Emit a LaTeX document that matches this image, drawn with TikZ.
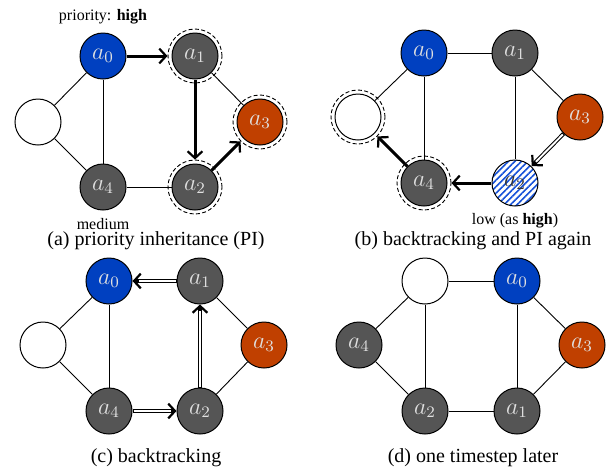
\documentclass[tikz,border=0pt]{standalone}
\usepackage{fontspec}
\setmainfont{Liberation Serif}
\usetikzlibrary{patterns.meta,arrows.meta}

\definecolor{agentblue}{HTML}{0040C0}
\definecolor{agentred}{HTML}{C04000}
\definecolor{agentgray}{HTML}{555555}
\definecolor{hatchblue}{HTML}{1450D8}

\tikzset{
  vtx/.style={circle, draw=black, line width=0.5pt, minimum size=23pt,
    inner sep=0pt, font=\large, text=white!88!black},
  freev/.style={vtx, fill=white},
  bluev/.style={vtx, fill=agentblue},
  redv/.style={vtx, fill=agentred},
  grayv/.style={vtx, fill=agentgray},
  hatchv/.style={vtx, pattern={Lines[angle=45, distance=2.3pt, line width=0.8pt]},
    pattern color=hatchblue, text=black!80},
  waitring/.style={circle, draw, dash pattern=on 2pt off 1.2pt,
    line width=0.45pt, minimum size=27pt, inner sep=0pt},
  link/.style={line width=0.45pt},
  tip/.tip={Straight Barb[length=3.4pt, width=7.4pt, line width=1.1pt]},
  pushlink/.style={line width=1.5pt, -tip},
  backlink/.style={line width=2pt, -tip,
    postaction={draw=white, line width=0.95pt, -, shorten >=3pt, shorten <=0.5pt}},
  smalltxt/.style={font=\fontsize{8}{9}\selectfont, inner sep=0pt},
  captxt/.style={font=\fontsize{10}{12}\selectfont, inner sep=0pt},
}

\begin{document}
\begin{tikzpicture}[x=0.5pt, y=-0.5pt]
\useasboundingbox (0,0) rectangle (613,468);

% ---------- (a) priority inheritance ----------
\node[bluev] (aA0) at (103,56) {$a_0$};
\node[grayv] (aA1) at (195,56) {$a_1$};
\node[freev] (eA)  at (38,122) {};
\node[redv]  (aA3) at (260,122) {$a_3$};
\node[grayv] (aA4) at (103,187) {$a_4$};
\node[grayv] (aA2) at (195,187) {$a_2$};
\node[waitring] (rA1) at (aA1.center) {};
\node[waitring] (rA2) at (aA2.center) {};
\node[waitring] (rA3) at (aA3.center) {};
\draw[link] (eA) -- (aA0);
\draw[link] (eA) -- (aA4);
\draw[link] (aA0) -- (aA4);
\draw[link] (aA1) -- (aA3);
\draw[link] (aA4) -- (aA2);
\draw[pushlink] (aA0) -- (rA1);
\draw[pushlink] (aA1) -- (rA2);
\draw[pushlink] (aA2) -- (rA3);
\node[smalltxt] (hiA) at (103,17) {priority: \textbf{high}};
\node[smalltxt] (mdA) at (103,224) {medium};
\node[captxt] (capA) at (156,241) {(a) priority inheritance (PI)};

% ---------- (b) backtracking and PI again ----------
\node[bluev]  (aB0) at (424,53) {$a_0$};
\node[grayv]  (aB1) at (515,53) {$a_1$};
\node[freev]  (eB)  at (358,117) {};
\node[redv]   (aB3) at (580,117) {$a_3$};
\node[grayv]  (aB4) at (424,183) {$a_4$};
\node[hatchv] (aB2) at (515,183) {$a_2$};
\node[waitring] (rB4) at (aB4.center) {};
\node[waitring] (rBe) at (eB.center) {};
\draw[link] (aB0) -- (aB1);
\draw[link] (aB0) -- (eB);
\draw[link] (aB0) -- (aB4);
\draw[link] (aB1) -- (aB2);
\draw[link] (aB1) -- (aB3);
\draw[backlink] (aB3) -- (aB2);
\draw[pushlink] (aB2) -- (rB4);
\draw[pushlink] (aB4) -- (rBe);
\node[smalltxt] (loB) at (515,221) {low (as \textbf{high})};
\node[captxt] (capB) at (473,241) {(b) backtracking and PI again};

% ---------- (c) backtracking ----------
\node[bluev] (aC0) at (109,281) {$a_0$};
\node[grayv] (aC1) at (200,281) {$a_1$};
\node[freev] (eC)  at (43,345) {};
\node[redv]  (aC3) at (264,345) {$a_3$};
\node[grayv] (aC4) at (109,411) {$a_4$};
\node[grayv] (aC2) at (200,411) {$a_2$};
\draw[link] (eC) -- (aC0);
\draw[link] (eC) -- (aC4);
\draw[link] (aC0) -- (aC4);
\draw[link] (aC1) -- (aC3);
\draw[link] (aC3) -- (aC2);
\draw[backlink] (aC1) -- (aC0);
\draw[backlink] (aC2) -- (aC1);
\draw[backlink] (aC4) -- (aC2);
\node[captxt] (capC) at (156,458) {(c) backtracking};

% ---------- (d) one timestep later ----------
\node[freev] (eD)  at (425,281) {};
\node[bluev] (aD0) at (517,281) {$a_0$};
\node[grayv] (aD4) at (359,345) {$a_4$};
\node[redv]  (aD3) at (582,345) {$a_3$};
\node[grayv] (aD2) at (425,411) {$a_2$};
\node[grayv] (aD1) at (517,411) {$a_1$};
\draw[link] (eD) -- (aD0);
\draw[link] (eD) -- (aD4);
\draw[link] (eD) -- (aD2);
\draw[link] (aD0) -- (aD1);
\draw[link] (aD0) -- (aD3);
\draw[link] (aD3) -- (aD1);
\draw[link] (aD4) -- (aD2);
\draw[link] (aD2) -- (aD1);
\node[captxt] (capD) at (473,458) {(d) one timestep later};
\end{tikzpicture}
\end{document}
